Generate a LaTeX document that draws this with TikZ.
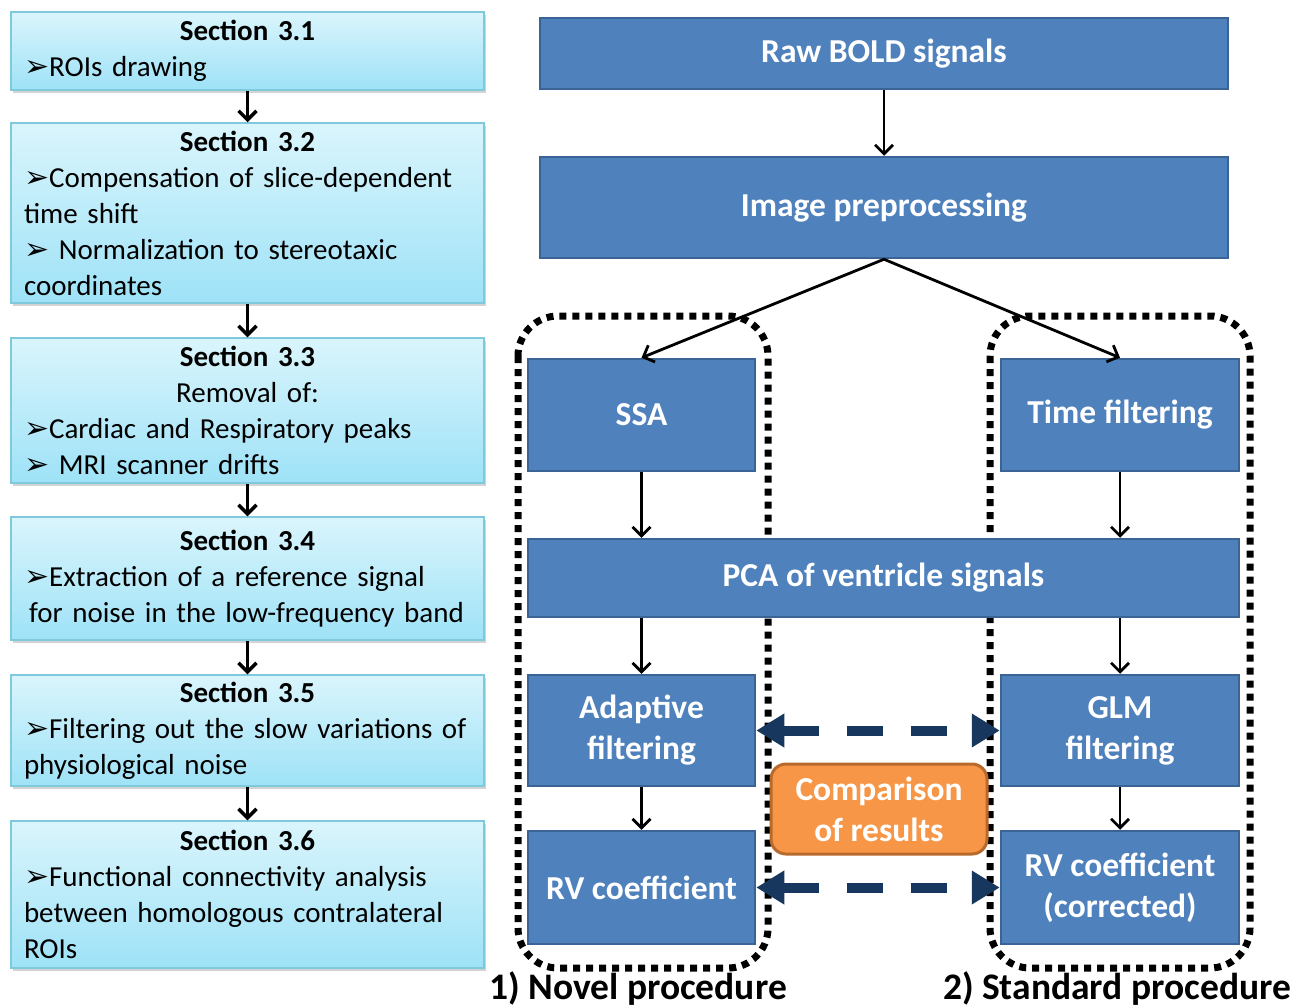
\documentclass[tikz,border=0pt]{standalone}
\usepackage{fontspec}
\setmainfont{Carlito}
\newfontfamily\symfont{DejaVu Sans}
\usetikzlibrary{arrows.meta,shadows}
\definecolor{procblue}{HTML}{4F81BD}
\definecolor{procedge}{HTML}{3A6496}
\definecolor{cmporange}{HTML}{F79646}
\definecolor{cmpedge}{HTML}{B8692C}
\definecolor{secedge}{HTML}{7FC9DD}
\definecolor{sectop}{HTML}{DAF5FC}
\definecolor{secbottom}{HTML}{9EE2F7}
\definecolor{navy}{HTML}{17375E}
\newcommand{\bul}{{\symfont\fontsize{30}{36}\selectfont ➢}}
\newcommand{\sechead}[1]{\makebox[447pt][c]{\bfseries #1}}
\newcommand{\secline}[1]{\mbox{#1}}
\begin{document}
\begin{tikzpicture}[x=1pt,y=-1pt]

      \tikzset{secbox/.style={draw=secedge, line width=1.5pt, top color=sectop, bottom color=secbottom,
               drop shadow={shadow xshift=2pt, shadow yshift=-3pt, opacity=.35}, minimum width=473pt,
               text width=447pt, align=left, inner xsep=13pt, inner ysep=0pt, font=\fontsize{29}{36}\selectfont},
               procbox/.style={draw=procedge, line width=2.5pt, fill=procblue, text=white, align=center,
               inner sep=0pt, font=\bfseries\fontsize{33.5}{41}\selectfont},
               cmpbox/.style={draw=cmpedge, line width=3pt, fill=cmporange, text=white, align=center,
               rounded corners=15pt, inner sep=0pt, font=\bfseries\fontsize{33.5}{41}\selectfont},
               frame/.style={line width=7pt, dash pattern=on 7pt off 6pt, rounded corners=40pt},
               secarrow/.style={-{Straight Barb[length=9pt, width=18pt]}, line width=3.5pt},
               procarrow/.style={-{Straight Barb[length=9pt, width=18pt]}, line width=2.8pt},
               cmparrow/.style={{Triangle[length=28pt, width=32pt]}-{Triangle[length=28pt, width=32pt]},
               line width=10pt, navy, dash pattern=on 36pt off 28pt}}
      \useasboundingbox (0,0) rectangle (1305,1007);
%% Procedure frames
      	\draw[frame] (518,316) rectangle (768,968);
      	\draw[frame] (990,316) rectangle (1250,968);
%% Sections
      	\node[secbox, minimum height=78pt] (s31) at (247.5,51) {\sechead{Section 3.1}\\\secline{\bul ROIs drawing}};
      	\node[secbox, minimum height=180pt] (s32) at (247.5,213) {\sechead{Section 3.2}\\\secline{\bul Compensation of slice-dependent}\\time shift\\\secline{\bul\ Normalization to stereotaxic}\\coordinates};
      	\node[secbox, minimum height=145pt] (s33) at (247.5,410.5) {\sechead{Section 3.3}\\\makebox[447pt][c]{Removal of:}\\\secline{\bul Cardiac and Respiratory peaks}\\\secline{\bul\ MRI scanner drifts}};
      	\node[secbox, minimum height=123pt] (s34) at (247.5,578.5) {\sechead{Section 3.4}\\\secline{\bul Extraction of a reference signal}\\\secline{\hspace*{5pt}for noise in the low-frequency band}};
      	\node[secbox, minimum height=111pt] (s35) at (247.5,730.5) {\sechead{Section 3.5}\\\secline{\bul Filtering out the slow variations of}\\\secline{physiological noise}};
      	\node[secbox, minimum height=147pt] (s36) at (247.5,894.5) {\sechead{Section 3.6}\\\secline{\bul Functional connectivity analysis}\\\secline{between homologous contralateral}\\ROIs};
%% Processing steps
      	\node[procbox, minimum width=688pt, minimum height=71pt] (raw) at (884,53.5) {Raw BOLD signals};
      	\node[procbox, minimum width=688pt, minimum height=101pt] (prep) at (884,207.5) {Image preprocessing};
      	\node[procbox, minimum width=227pt, minimum height=112pt] (ssa) at (641.5,415) {SSA};
      	\node[procbox, minimum width=238pt, minimum height=112pt] (tf) at (1120,415) {Time filtering};
      	\node[procbox, minimum width=711pt, minimum height=78pt] (pca) at (883.5,578) {PCA of ventricle signals};
      	\node[procbox, minimum width=227pt, minimum height=111pt] (adapt) at (641.5,730.5) {Adaptive\\filtering};
      	\node[procbox, minimum width=238pt, minimum height=111pt] (glm) at (1120,730.5) {GLM\\filtering};
      	\node[procbox, minimum width=227pt, minimum height=113pt] (rv) at (641.5,887.5) {RV coefficient};
      	\node[procbox, minimum width=238pt, minimum height=113pt] (rvc) at (1120,887.5) {RV coefficient\\(corrected)};
      	\node[cmpbox, minimum width=216pt, minimum height=90pt] (cmp) at (879,809) {Comparison\\of results};
%% Procedure labels
      	\node[font=\bfseries\fontsize{37.5}{40}\selectfont] (novel) at (638,989) {1) Novel procedure};
      	\node[font=\bfseries\fontsize{37.5}{40}\selectfont] (standard) at (1117,989) {2) Standard procedure};
%Edges
		\path [secarrow] (s31) edge (s32);
		\path [secarrow] (s32) edge (s33);
		\path [secarrow] (s33) edge (s34);
		\path [secarrow] (s34) edge (s35);
		\path [secarrow] (s35) edge (s36);
		\path [procarrow] (raw) edge (prep);
		\path [procarrow] (prep.south) edge (ssa.north);
		\path [procarrow] (prep.south) edge (tf.north);
		\path [procarrow] (ssa.south) edge (ssa.south |- pca.north);
		\path [procarrow] (tf.south) edge (tf.south |- pca.north);
		\path [procarrow] (ssa.south |- pca.south) edge (adapt.north);
		\path [procarrow] (tf.south |- pca.south) edge (glm.north);
		\path [procarrow] (adapt) edge (rv);
		\path [procarrow] (glm) edge (rvc);
		\path [cmparrow] (adapt.east) edge (glm.west);
		\path [cmparrow] (rv.east) edge (rvc.west);

	\end{tikzpicture}
\end{document}
